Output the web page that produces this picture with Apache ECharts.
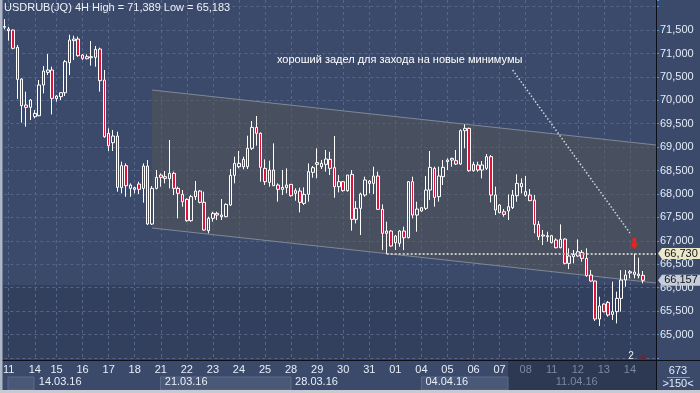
<!DOCTYPE html>
<html><head><meta charset="utf-8">
<script src="https://cdn.jsdelivr.net/npm/echarts@6/dist/echarts.min.js"></script>
<style>html,body{margin:0;padding:0;background:#3b4a6a;}#c{width:700px;height:393px;}</style>
</head><body><div id="c"></div>
<script>
// ---- data ----
const dayNames = ['10.03','11.03','14.03','15.03','16.03','17.03','18.03','21.03','22.03','23.03','24.03','25.03','28.03','29.03','30.03','31.03','01.04','04.04','05.04','06.04','07.04','08.04','11.04','12.04','13.04','14.04'];
const barsPerDay = [1,6,5,6,6,6,6,6,6,6,6,6,6,6,6,6,6,6,6,6,6,6,6,6,6,4];
const weekLabels = {'14.03':'14.03.16','21.03':'21.03.16','28.03':'28.03.16','04.04':'04.04.16','11.04':'11.04.16'};
const dimFromDay = '08.04';

const opens = [71560,71487,71501,71131,70455,69900,69850,69651,69672,70327,70597,70647,70035,70078,70163,70804,71273,71309,70967,70889,70910,70918,71095,70434,69295,69095,69238,68135,68605,68120,68099,68213,68120,68597,67359,68120,68405,68334,68327,68441,68120,67992,67886,67430,67943,68064,67822,67217,67480,67587,
67516,67516,67765,68398,68583,68740,68583,68975,69423,69295,68548,68249,68512,68192,68099,68135,68206,68014,68064,67800,67993,68462,68633,68654,68633,68740,68562,68156,68263,68071,68420,67459,67694,67978,68277,68227,68384,67672,67160,67210,67103,66946,67210,67067,68263,67551,67637,67694,68085,68548,
67943,68370,68690,68725,68711,68640,69352,69402,68498,68619,68512,68548,68797,67978,67765,67622,67637,67708,67964,68227,68050,67978,67871,67352,67103,67089,67110,67018,66853,67039,66519,66662,66676,66754,66626,66270,66142,65331,65651,65687,65430,65487,65772,66163,66313,66284,66256,66263];
const closes = [71575,71522,71110,70448,69886,69850,70007,69722,70327,70626,70647,70042,70092,70163,70825,71288,71309,70953,70896,70932,70932,71088,70419,69224,69031,69238,68142,68605,68177,68192,68135,68099,68597,67359,68120,68355,68355,68370,68441,68120,68014,67836,67430,67943,68064,67822,67231,67480,67587,67551,
67551,67779,68398,68654,68654,68583,68975,69423,69295,68569,68263,68512,68177,68099,68142,68192,67964,68071,67822,67993,68477,68562,68669,68583,68747,68548,68156,68263,68071,68405,67459,67694,68000,68298,68227,68384,67672,67160,67210,66889,66960,67210,67067,68263,67551,67679,67708,68085,68569,67928,
68384,68569,68725,68761,68640,69352,69402,68498,68633,68512,68619,68797,67978,67658,67601,67565,67729,67978,68227,68156,67971,67857,67352,67089,67124,67110,66960,66853,67032,66519,66676,66711,66768,66626,66256,66142,65331,65608,65487,65416,65487,65772,66163,66270,66341,66334,66291,66157];
const lows = [71515,71273,71088,70028,69523,69437,69580,69615,69660,70149,70540,69700,69971,70007,70092,70540,70861,70932,70861,70875,70740,70718,70185,69200,68918,68918,68049,68014,67942,67942,68014,68000,67815,67338,67338,68099,68156,68227,68120,67978,67480,67729,67409,67409,67871,67800,67217,67160,67409,67445,
67445,67502,67743,68227,68548,68526,68533,68939,69032,68263,68192,68156,68170,67836,67978,68014,67943,67857,67608,67765,67836,68349,68334,68533,68477,68405,67921,68035,68050,68050,67217,67373,67124,67943,68014,67999,67658,66804,66719,66875,66804,66875,66804,67053,67480,67195,67622,67658,67872,67729,
67836,68192,68512,68583,68619,68619,68975,68476,68476,68476,68334,68512,67821,67551,67587,67516,67445,67679,67836,68014,67943,67850,67160,67018,66911,66982,66946,66840,66840,66498,66398,66519,66662,66555,66235,66128,65288,65183,65473,65381,65309,65238,65487,66021,66199,66199,66199,66092];
const highs = [71736,71565,71510,71181,70469,70185,70028,69793,70434,70732,70989,70718,70113,70170,70861,71400,71380,71359,70989,70982,71266,71160,71124,70647,69402,69366,69330,68690,68654,68227,68156,68263,68654,68725,68170,68512,68441,68490,69153,68476,68156,68085,67907,67978,68277,68085,68050,67516,67622,67622,
67893,67800,68533,68797,68918,68797,69245,69558,69665,69316,68740,68711,69081,68227,68512,68548,68213,68121,68135,68142,68654,68598,68975,68726,68939,68903,69238,68405,68277,68405,68512,67850,68028,68370,68298,68583,68476,67779,67409,67231,67124,67231,67302,68277,68370,67836,67708,68384,68918,68583,
68583,68725,68761,68775,68939,69380,69487,69416,68690,68690,68704,68854,68832,68156,67779,67679,67992,68085,68420,68334,68384,68106,67978,67423,67231,67196,67124,67053,67352,67053,66840,66804,67032,66804,66840,66377,66149,65807,65665,65715,66128,65914,66377,66377,66377,66730,66640,66356];

// trend channel corners (bar index, price) and annotation points
const channelIdx = [34, 150, 150, 34];
const channelVal = [70220, 69046, 66100, 67274];
const levelPrice = 66730, levelFromIdx = 88, levelToIdx = 150;
const noteText = 'хороший задел для захода на новые минимумы';
const notePoint = [91, 70861];
const pointerFrom = [117, 70647], pointerTo = [144, 67167];
const arrowIdx = 145;
const titleText = 'USDRUB(JQ) 4H High = 71,389 Low = 65,183';

// ---- build categories ----
const cats = [], dayLabelAt = {}, weekLabelAt = {}, dayStartSet = new Set();
let dimFromIdx = 1e9;
dayNames.forEach((d, di) => {
  for (let k = 0; k < barsPerDay[di]; k++) {
    const idx = cats.length;
    if (k === 0 && di > 0) {
      dayLabelAt[idx] = d.slice(0, 2);
      dayStartSet.add(idx);
      if (weekLabels[d]) weekLabelAt[idx] = weekLabels[d];
      if (d === dimFromDay) dimFromIdx = idx;
    }
    cats.push(d + ' #' + k);
  }
});
for (let p = 0; p < 3; p++) cats.push('pad' + p);
const ohlc = opens.map((o, i) => [o, closes[i], lows[i], highs[i]]);
const lastClose = closes[closes.length - 1];

const FONT = '"Liberation Sans Narrow","Arial Narrow","Liberation Sans",Arial,sans-serif';
const fmt = v => echarts.format.addCommas(v);
const tagPath = 'path://M0,5.5 L4,0 L42,0 L42,11 L4,11 Z';

const chart = echarts.init(document.getElementById('c'), null, {width: 700, height: 393});
chart.setOption({
  animation: false,
  backgroundColor: '#3b4a6a',
  textStyle: {fontFamily: FONT},
  title: {text: titleText, left: 4, top: 2, padding: 0,
    textStyle: {color: '#eef2f8', fontSize: 11, fontWeight: 'normal', fontFamily: FONT}},
  grid: {left: 4, right: 44, top: 0, bottom: 33, containLabel: false},
  xAxis: [{
    type: 'category', data: cats, boundaryGap: false,
    axisLine: {show: false}, axisTick: {show: false},
    axisLabel: {interval: (i) => dayStartSet.has(i), formatter: (v, i) => dayLabelAt[i] || '',
      color: (v, i) => (cats.indexOf(v) >= dimFromIdx ? '#7d889e' : '#e8eef8'),
      fontSize: 11, margin: 4, fontFamily: FONT},
    splitLine: {show: true, interval: (i) => dayStartSet.has(i),
      lineStyle: {color: '#56658a', type: [3, 3], width: 1}}
  }, {
    type: 'category', data: cats, boundaryGap: false, position: 'bottom', offset: 12,
    axisLine: {show: false}, axisTick: {show: false}, splitLine: {show: false},
    axisLabel: {interval: (i) => weekLabelAt[i] !== undefined, formatter: (v, i) => weekLabelAt[i] || '',
      align: 'left', padding: [0, 0, 0, 4],
      color: (v) => (cats.indexOf(v) >= dimFromIdx - 6 ? '#7d889e' : '#e8eef8'),
      fontSize: 11, margin: 4, fontFamily: FONT}
  }],
  yAxis: {
    type: 'value', position: 'right', scale: true,
    min: 64456, max: 72142, splitNumber: 15, minInterval: 500, maxInterval: 500,
    axisLine: {show: false},
    axisTick: {show: true, length: 3, lineStyle: {color: '#4a9be0'}},
    axisLabel: {formatter: v => (v >= 65000 && v <= 71500 ? fmt(v) : ''), color: '#e4ecf8',
      fontSize: 11, margin: 4, fontFamily: FONT},
    splitLine: {show: true, showMinLine: false, showMaxLine: false,
      lineStyle: {color: '#56658a', type: [3, 3], width: 1}}
  },
  series: [{
    type: 'custom', z: 1, silent: true, clip: false,
    data: [[0, 0]],
    renderItem: (params, api) => {
      const p = channelIdx.map((x, i) => api.coord([x, channelVal[i]]));
      return {type: 'group', children: [
        {type: 'polygon', shape: {points: p}, style: {fill: 'rgba(88,88,82,0.47)'}},
        {type: 'line', shape: {x1: p[0][0], y1: p[0][1], x2: p[1][0], y2: p[1][1]}, style: {stroke: '#7f8898', lineWidth: 1}},
        {type: 'line', shape: {x1: p[3][0], y1: p[3][1], x2: p[2][0], y2: p[2][1]}, style: {stroke: '#7f8898', lineWidth: 1}}
      ]};
    }
  }, {
    type: 'candlestick', z: 3, clip: false,
    data: ohlc, barWidth: 3,
    itemStyle: {color: 'transparent', color0: '#dc143c', borderColor: '#ffffff', borderColor0: '#ffffff', borderWidth: 1},
    markLine: {
      silent: true, symbol: ['none', 'none'], label: {show: false},
      data: [
        [{coord: [levelFromIdx, levelPrice], lineStyle: {color: '#c4c4c4', type: [2, 2], width: 2}},
         {coord: [levelToIdx, levelPrice], lineStyle: {color: '#c4c4c4', type: [2, 2], width: 2}}],
        [{coord: pointerFrom, lineStyle: {color: '#d3d6dc', type: [1.5, 2], width: 1.5}},
         {coord: pointerTo, lineStyle: {color: '#d3d6dc', type: [1.5, 2], width: 1.5}}]
      ]
    },
    markPoint: {
      silent: true,
      data: [
        {coord: [arrowIdx, levelPrice], value: levelPrice,
         symbol: 'path://M3,0 L7,0 L7,6 L10,6 L5,12 L0,6 L3,6 Z', symbolSize: [9, 11], symbolOffset: [0, -10],
         itemStyle: {color: '#e8241c'}, label: {show: false}},
        {coord: notePoint, value: 0, symbol: 'circle', symbolSize: 0,
         label: {show: true, position: 'inside', formatter: noteText, color: '#ffffff', fontSize: 11, fontFamily: FONT}},
        {coord: [levelToIdx, levelPrice], value: levelPrice, symbol: tagPath, symbolSize: [42, 11], symbolKeepAspect: false,
         symbolOffset: [23, 0], itemStyle: {color: '#ece8cb'},
         label: {show: true, position: 'inside', offset: [2, 0], formatter: fmt(levelPrice), color: '#141414', fontSize: 11, fontFamily: FONT}},
        {coord: [levelToIdx, lastClose], value: lastClose, symbol: tagPath, symbolSize: [42, 11], symbolKeepAspect: false,
         symbolOffset: [23, 0], itemStyle: {color: '#c5cddb'},
         label: {show: true, position: 'inside', offset: [2, 0], formatter: fmt(lastClose), color: '#141414', fontSize: 11, fontFamily: FONT}}
      ]
    }
  }],
  graphic: [
    {type: 'rect', z: -11, shape: {x: 2.5, y: 285, width: 653.5, height: 75}, style: {fill: '#323f5d'}},
    {type: 'rect', z: -10, shape: {x: 508, y: 361, width: 148, height: 29}, style: {fill: '#2d3853'}},
    {type: 'rect', z: -9, shape: {x: 8, y: 377, width: 26, height: 13}, style: {fill: '#4a5877', stroke: '#5d6b8a'}},
    {type: 'rect', z: -9, shape: {x: 160.5, y: 377, width: 130.5, height: 13}, style: {fill: '#4a5877', stroke: '#5d6b8a'}},
    {type: 'rect', z: -9, shape: {x: 421.5, y: 377, width: 86.5, height: 13}, style: {fill: '#4a5877', stroke: '#5d6b8a'}},
    {type: 'line', z: 50, shape: {x1: 0, y1: 360.5, x2: 700, y2: 360.5}, style: {stroke: '#0c0f18', lineWidth: 1}},
    {type: 'line', z: 50, shape: {x1: 656.5, y1: 0, x2: 656.5, y2: 393}, style: {stroke: '#0c0f18', lineWidth: 1}},
    {type: 'rect', z: 50, shape: {x: 0, y: 0, width: 2.5, height: 393}, style: {fill: '#aeb7c8'}},
    {type: 'rect', z: 50, shape: {x: 0, y: 390, width: 700, height: 3}, style: {fill: '#c5cad3'}},
    {type: 'text', z: 50, x: 678, y: 371, style: {text: '673', fill: '#e4ecf8', font: '11px ' + FONT, align: 'center', verticalAlign: 'middle'}},
    {type: 'line', z: 50, shape: {x1: 667, y1: 377.5, x2: 690, y2: 377.5}, style: {stroke: '#8a95ab', lineWidth: 1}},
    {type: 'text', z: 50, x: 678, y: 383.5, style: {text: '>150<', fill: '#e4ecf8', font: '11px ' + FONT, align: 'center', verticalAlign: 'middle'}},
    {type: 'text', z: 50, x: 631, y: 356, style: {text: '2', fill: '#e8eef8', font: '10px ' + FONT, align: 'center', verticalAlign: 'middle'}},
    {type: 'polygon', z: 50, shape: {points: [[640, 359], [643, 354], [646, 359]]}, style: {fill: '#6d2434'}}
  ]
});
</script></body></html>
